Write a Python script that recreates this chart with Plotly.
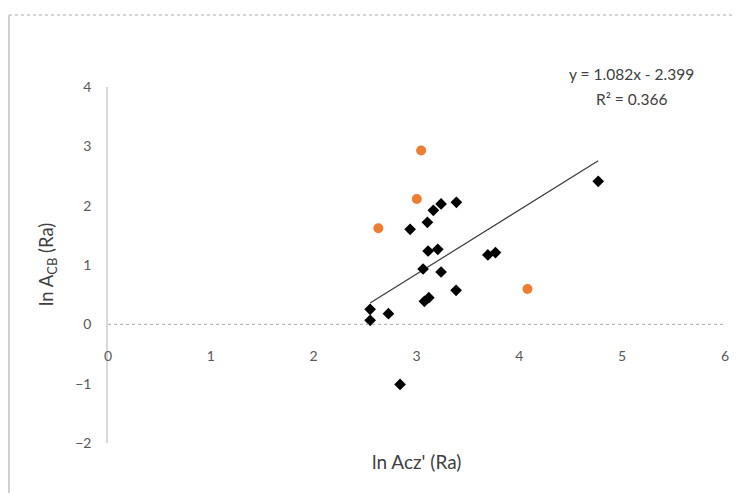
import plotly.graph_objects as go

# Data
black_x = [2.549, 2.549, 2.727, 2.840, 2.938, 3.106, 3.164, 3.239, 3.388, 3.113,
           3.207, 3.064, 3.239, 3.077, 3.120, 3.385, 3.694, 3.768, 4.767]
black_y = [0.253, 0.067, 0.180, -1.012, 1.602, 1.720, 1.922, 2.029, 2.057, 1.236,
           1.265, 0.933, 0.882, 0.388, 0.450, 0.573, 1.169, 1.209, 2.411]
orange_x = [3.045, 3.003, 2.629, 4.079]
orange_y = [2.929, 2.113, 1.619, 0.595]

slope = 1.082
intercept = -2.399
r2 = 0.366

x_ticks = [0, 1, 2, 3, 4, 5, 6]
y_ticks = [-2, -1, 0, 1, 2, 3, 4]

# page body has an 8px margin; screen coords = figure coords + 8
OFF = 8
W, H = 742 - OFF, 493 - OFF
# plot area in screen coords: x 108..725, y 87..443
L, T = 108 - OFF, 87 - OFF
R = W - (725 - OFF)
B = H - (443 - OFF)
pw, ph = W - L - R, H - T - B

def px_to_paper_x(p):  # p in screen px
    return (p - OFF - L) / pw

def px_to_paper_y(p):
    return (H - B - (p - OFF)) / ph

font_family = "Lato, 'Open Sans', sans-serif"
tick_color = "#595959"
title_color = "#404040"

fig = go.Figure()

tx = [min(black_x), max(black_x)]
ty = [slope * v + intercept for v in tx]
fig.add_trace(go.Scatter(x=tx, y=ty, mode="lines",
                         line=dict(color="#3a3a3a", width=1.2),
                         hoverinfo="skip", showlegend=False))

fig.add_trace(go.Scatter(x=black_x, y=black_y, mode="markers",
                         marker=dict(symbol="diamond", size=9, color="black"),
                         showlegend=False))
fig.add_trace(go.Scatter(x=orange_x, y=orange_y, mode="markers",
                         marker=dict(symbol="circle", size=10, color="#ED7D31"),
                         showlegend=False))

fig.update_layout(
    width=W, height=H,
    margin=dict(l=L, r=R, t=T, b=B),
    paper_bgcolor="white", plot_bgcolor="white",
    font=dict(family=font_family, color=tick_color, size=14),
    showlegend=False,
    xaxis=dict(range=[0, 6], tickvals=x_ticks, showgrid=False, zeroline=False,
               showline=False, ticks="", anchor="free",
               position=px_to_paper_y(346),
               tickfont=dict(size=14, color=tick_color)),
    yaxis=dict(range=[-2, 4], tickvals=y_ticks, showgrid=False, zeroline=False,
               showline=True, linecolor="#d9d9d9", linewidth=1.5, ticks="",
               ticklabelstandoff=12,
               tickfont=dict(size=14, color=tick_color)),
)

# dotted zero line (horizontal axis at y = 0)
fig.add_shape(type="line", xref="x", yref="y", x0=0, x1=6, y0=0, y1=0,
              line=dict(color="#a6a6a6", width=1, dash="dot"))

# chart frame (left solid, top dotted)
fig.add_shape(type="line", xref="paper", yref="paper",
              x0=px_to_paper_x(9), x1=px_to_paper_x(9),
              y0=px_to_paper_y(15), y1=px_to_paper_y(500),
              line=dict(color="#d0d0d0", width=2))
fig.add_shape(type="line", xref="paper", yref="paper",
              x0=px_to_paper_x(9), x1=px_to_paper_x(750),
              y0=px_to_paper_y(15), y1=px_to_paper_y(15),
              line=dict(color="#c8c8c8", width=1.5, dash="dot"))

fig.add_annotation(text="ln Acz' (Ra)", xref="paper", yref="paper",
                   x=px_to_paper_x(416), y=px_to_paper_y(461),
                   showarrow=False, font=dict(size=19, color=title_color),
                   xanchor="center", yanchor="middle")
fig.add_annotation(text="ln A<sub>CB</sub> (Ra)", xref="paper", yref="paper",
                   x=px_to_paper_x(47), y=px_to_paper_y(265), textangle=-90,
                   showarrow=False, font=dict(size=18.5, color=title_color),
                   xanchor="center", yanchor="middle")

fig.add_annotation(text=f"y = {slope}x - {abs(intercept)}", xref="paper", yref="paper",
                   x=px_to_paper_x(631), y=px_to_paper_y(74),
                   showarrow=False, font=dict(size=15.5, color=title_color),
                   xanchor="center", yanchor="middle")
fig.add_annotation(text=f"R\u00b2 = {r2}", xref="paper", yref="paper",
                   x=px_to_paper_x(631), y=px_to_paper_y(99),
                   showarrow=False, font=dict(size=15.5, color=title_color),
                   xanchor="center", yanchor="middle")

fig.write_html("out.html")
